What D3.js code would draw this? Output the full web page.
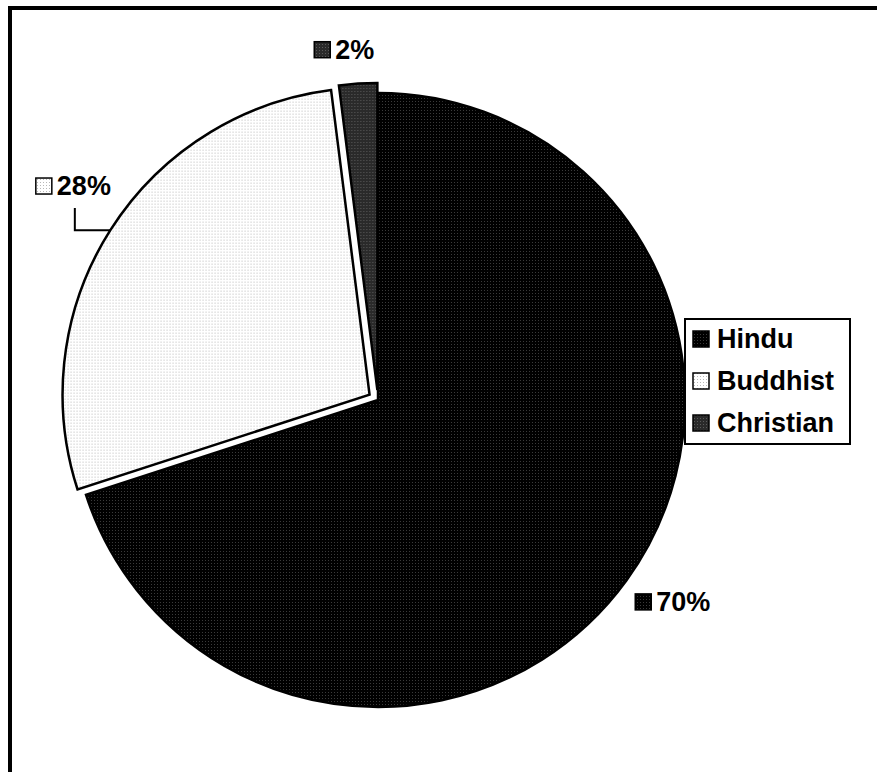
<!DOCTYPE html>
<html>
<head>
<meta charset="utf-8">
<script src="https://cdn.jsdelivr.net/npm/d3@7"></script>
<style>
  body { margin: 0; background: #fff; }
  text { font-family: "Liberation Sans", Arial, sans-serif; font-weight: bold; }
</style>
</head>
<body>
<svg id="chart"></svg>
<script>
var width = 877, height = 772

// data
var religions = ["Hindu", "Buddhist", "Christian"]
var shares = [70, 28, 2]
var pctLabels = ["70%", "28%", "2%"]

// look
var baseColours = ["#000000", "#ffffff", "#2a2a2a"]
var dotColours = ["#3a3a3a", "#b8b8b8", "#5a5a5a"]
var explode = [0, 10, 10]
var labelNudge = [[10, -5], [1, -20], [-11, 11]]

var svg = d3.select("#chart")
    .attr("width", width)
    .attr("height", height)
var defs = svg.append("defs")

religions.forEach(function(r, i) {
    var p = defs.append("pattern")
        .attr("id", "pat" + i)
        .attr("patternUnits", "userSpaceOnUse")
        .attr("width", 3)
        .attr("height", 3)
    p.append("rect").attr("width", 3).attr("height", 3).attr("fill", baseColours[i])
    p.append("rect").attr("x", 1).attr("y", 1).attr("width", 1).attr("height", 1).attr("fill", dotColours[i])
})

// outer frame (right and bottom edges fall outside the picture)
svg.append("rect")
    .attr("x", 10).attr("y", 8)
    .attr("width", 900).attr("height", 800)
    .attr("fill", "none")
    .attr("stroke", "black")
    .attr("stroke-width", 4)

var cx = 378, cy = 400, radius = 307

var pie = d3.pie().sort(null).value(d => d)
var arcs = pie(shares)
var arc = d3.arc().innerRadius(0).outerRadius(radius)
var labelArc = d3.arc().innerRadius(352).outerRadius(352)

function offset(d, i) {
    var a = (d.startAngle + d.endAngle) / 2
    return [Math.sin(a) * explode[i], -Math.cos(a) * explode[i]]
}

var g = svg.append("g").attr("transform", "translate(" + cx + "," + cy + ")")

g.selectAll("path.slice")
    .data(arcs)
    .enter()
    .append("path")
        .attr("class", "slice")
        .attr("transform", (d, i) => "translate(" + offset(d, i) + ")")
        .attr("d", arc)
        .attr("fill", (d, i) => "url(#pat" + i + ")")
        .attr("stroke", "black")
        .attr("stroke-width", 2.5)
        .attr("stroke-linejoin", "miter")

// data labels
var fs = 27, box = 16, gap = 5
arcs.forEach(function(d, i) {
    var o = offset(d, i)
    var c = labelArc.centroid(d)
    var lx = c[0] + o[0] + labelNudge[i][0], ly = c[1] + o[1] + labelNudge[i][1]
    var lg = g.append("g")
    var t = lg.append("text")
        .attr("font-size", fs)
        .attr("dy", "0.35em")
        .text(pctLabels[i])
    var tw = t.node().getComputedTextLength()
    var total = box + gap + tw
    var x0 = lx - total / 2
    lg.append("rect")
        .attr("x", x0).attr("y", ly - box / 2)
        .attr("width", box).attr("height", box)
        .attr("fill", "url(#pat" + i + ")")
        .attr("stroke", "black")
        .attr("stroke-width", 1.5)
    t.attr("x", x0 + box + gap).attr("y", ly)

    // leader line for the label that sits away from its slice
    if (i == 1) {
        var a = (d.startAngle + d.endAngle) / 2
        var ex = Math.sin(a) * radius + o[0], ey = -Math.cos(a) * radius + o[1]
        var vx = x0 + box + gap + 18
        g.append("path")
            .attr("d", "M" + ex + "," + ey + "H" + vx + "V" + (ly + 22))
            .attr("fill", "none")
            .attr("stroke", "black")
            .attr("stroke-width", 2)
    }
})

// legend
var legend = svg.append("g").attr("transform", "translate(685,319)")
legend.append("rect")
    .attr("width", 165).attr("height", 125)
    .attr("fill", "white")
    .attr("stroke", "black")
    .attr("stroke-width", 2)
var items = legend.selectAll("g.item")
    .data(religions)
    .enter()
    .append("g")
        .attr("class", "item")
        .attr("transform", (d, i) => "translate(8," + (20 + i * 42) + ")")
items.append("rect")
    .attr("y", -box / 2)
    .attr("width", box).attr("height", box)
    .attr("fill", (d, i) => "url(#pat" + i + ")")
    .attr("stroke", "black")
    .attr("stroke-width", 1.5)
items.append("text")
    .attr("x", box + 8)
    .attr("dy", "0.35em")
    .attr("font-size", fs)
    .text(d => d)
</script>
</body>
</html>
